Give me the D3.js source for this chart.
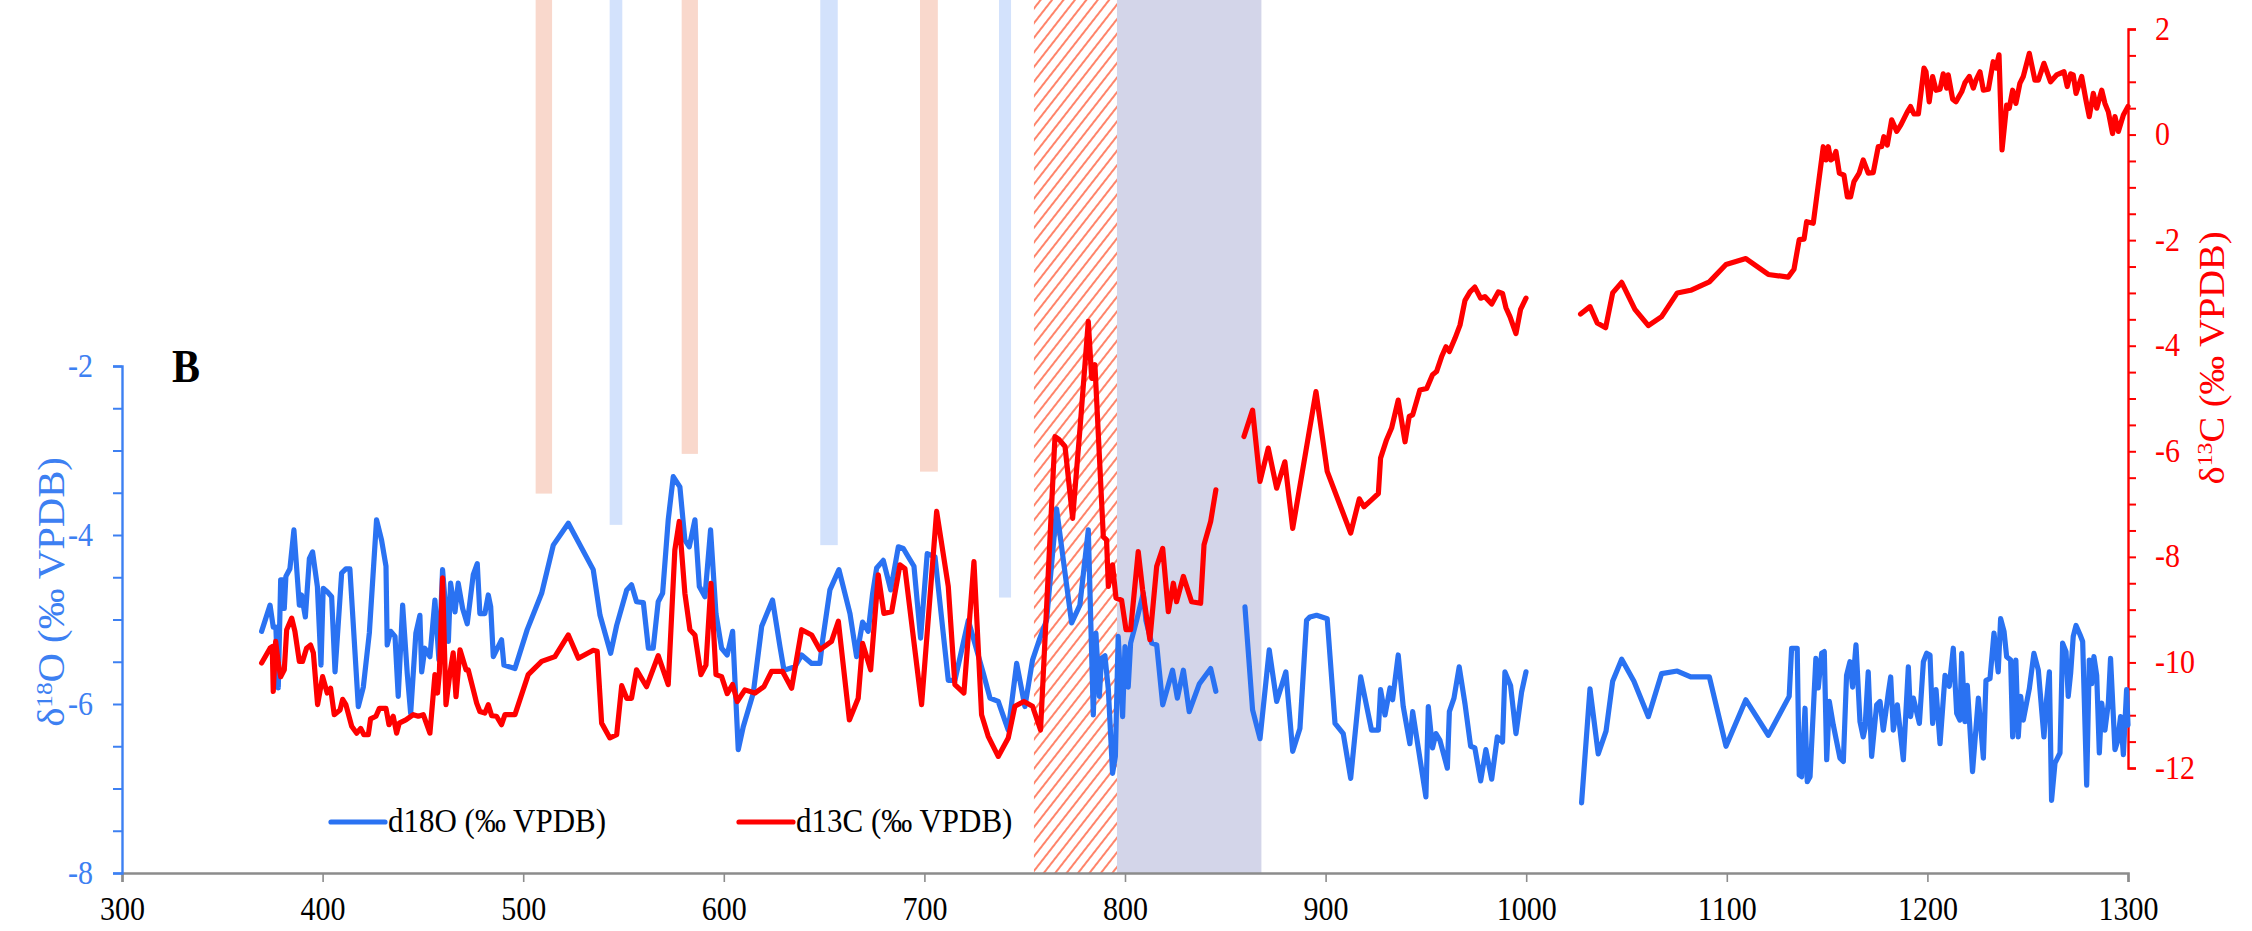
<!DOCTYPE html>
<html>
<head>
<meta charset="utf-8">
<script src="https://cdn.jsdelivr.net/npm/d3@7"></script>
<style>
  html, body { margin: 0; padding: 0; background: #fff; }
  svg { display: block; }
</style>
</head>
<body>
<svg id="chart" width="2252" height="931"></svg>
<script>
// ---- axis ticks ----
const yearTicks = [300, 400, 500, 600, 700, 800, 900, 1000, 1100, 1200, 1300];
const o18Ticks = [-2, -4, -6, -8];
const c13Ticks = [2, 0, -2, -4, -6, -8, -10, -12];

// ---- short events (year span, lower end on the δ18O scale) ----
const eventStart = [506.2, 543.1, 579.0, 648.1, 697.8, 737.2];
const eventEnd   = [514.4, 549.4, 587.1, 656.8, 706.7, 743.2];
const eventFloor = [-3.51, -3.88, -3.04, -4.12, -3.25, -4.74];
const eventKind  = ["warm", "cold", "warm", "cold", "warm", "cold"];

// ---- shaded intervals ----
const hatchSpan = [754.6, 796.0];
const shadeSpan = [796.0, 868.0];

// ---- δ18O record [year, ‰ VPDB]; null marks a hiatus ----
const d18O = [
  [369.6,-5.14],[373.8,-4.83],[375.4,-5.09],[376.7,-5.09],[377.9,-5.81],[379.1,-4.53],[380.1,-4.53],
  [380.9,-4.87],[381.7,-4.49],[383.7,-4.40],[385.7,-3.94],[388.4,-4.83],[389.5,-4.71],[391.4,-4.97],
  [393.4,-4.28],[395.0,-4.20],[397.4,-4.61],[399.2,-5.54],[400.3,-4.63],[402.3,-4.67],[404.5,-4.73],
  [406.2,-5.62],[409.5,-4.45],[411.6,-4.40],[413.6,-4.40],[417.8,-6.03],[420.3,-5.80],[423.3,-5.16],
  [426.9,-3.82],[429.4,-4.06],[431.6,-4.37],[432.2,-5.30],[433.9,-5.14],[436.1,-5.20],[437.7,-5.91],
  [439.9,-4.83],[442.2,-5.64],[443.9,-6.11],[446.5,-5.16],[448.5,-4.95],[449.4,-5.62],[451.0,-5.34],
  [453.5,-5.44],[456.0,-4.77],[458.0,-5.48],[459.8,-4.41],[462.7,-5.26],[463.8,-4.57],[466.0,-4.91],
  [467.6,-4.57],[469.8,-4.87],[472.1,-5.05],[475.1,-4.47],[477.1,-4.34],[478.4,-4.93],[480.9,-4.93],
  [482.6,-4.71],[483.8,-4.85],[485.1,-5.44],[489.2,-5.24],[490.4,-5.54],[495.9,-5.58],[502.0,-5.12],
  [509.2,-4.69],[515.0,-4.12],[522.5,-3.86],[534.9,-4.41],[538.3,-4.95],[543.6,-5.40],[546.6,-5.07],
  [551.6,-4.65],[554.0,-4.59],[556.5,-4.79],[559.9,-4.80],[562.4,-5.34],[564.8,-5.34],[567.3,-4.79],
  [569.5,-4.69],[572.3,-3.82],[574.8,-3.31],[578.1,-3.43],[580.6,-4.06],[582.8,-4.14],[585.6,-3.82],
  [587.8,-4.61],[590.6,-4.73],[593.4,-3.94],[596.1,-4.93],[598.9,-5.34],[601.7,-5.42],[604.4,-5.14],
  [607.2,-6.54],[609.7,-6.27],[614.7,-5.87],[618.9,-5.08],[624.3,-4.77],[628.0,-5.32],[630.0,-5.60],
  [635.5,-5.56],[638.8,-5.42],[643.8,-5.52],[647.9,-5.52],[649.3,-5.24],[652.9,-4.65],[657.4,-4.41],
  [662.9,-4.93],[666.2,-5.44],[669.2,-5.03],[672.0,-5.14],[674.2,-4.69],[676.2,-4.39],[679.5,-4.30],
  [683.2,-4.65],[687.0,-4.14],[689.5,-4.16],[692.0,-4.26],[694.8,-4.37],[698.1,-5.22],[701.4,-4.22],
  [705.3,-4.26],[711.9,-5.72],[715.2,-5.72],[721.9,-5.01],[729.4,-5.64],[732.7,-5.93],[736.8,-5.97],
  [741.8,-6.31],[746.0,-5.52],[750.1,-6.03],[753.9,-5.48],[757.3,-5.24],[760.9,-5.01],[765.9,-3.69],
  [770.1,-4.45],[773.4,-5.04],[777.5,-4.83],[781.7,-3.94],[784.2,-6.13],[785.5,-5.16],[787.2,-5.91],
  [788.3,-5.46],[790.0,-5.43],[791.7,-5.83],[793.8,-6.82],[795.2,-6.62],[796.6,-5.20],[798.8,-6.15],
  [800.0,-5.32],[801.6,-5.80],[802.8,-5.28],[805.8,-5.01],[809.1,-4.69],[810.4,-5.01],[813.3,-5.28],
  [815.8,-5.30],[818.8,-6.01],[823.7,-5.60],[826.1,-5.93],[829.1,-5.60],[832.0,-6.09],[837.1,-5.76],
  [842.7,-5.58],[845.3,-5.85],
  null,
  [859.8,-4.85],[863.6,-6.07],[867.3,-6.41],[871.9,-5.36],[875.6,-5.97],[880.2,-5.62],[883.6,-6.56],
  [887.2,-6.29],[890.5,-5.01],[892.2,-4.97],[895.5,-4.95],[900.8,-4.99],[904.7,-6.23],[908.8,-6.35],
  [912.5,-6.88],[917.5,-5.68],[922.9,-6.31],[926.3,-6.31],[927.4,-5.83],[929.6,-6.13],[932.1,-5.81],
  [933.4,-5.95],[936.2,-5.42],[938.7,-6.03],[942.0,-6.47],[943.4,-6.09],[946.2,-6.52],[950.0,-7.10],
  [951.2,-6.03],[953.3,-6.52],[955.0,-6.35],[957.0,-6.43],[960.7,-6.76],[961.7,-6.09],[964.0,-5.93],
  [966.6,-5.56],[969.5,-6.00],[972.3,-6.50],[974.4,-6.52],[977.3,-6.91],[979.9,-6.54],[982.8,-6.89],
  [985.6,-6.39],[988.2,-6.45],[989.4,-5.62],[992.2,-5.78],[994.9,-6.35],[997.7,-5.86],[999.9,-5.62],
  null,
  [1027.6,-7.17],[1031.8,-5.82],[1035.9,-6.59],[1039.8,-6.32],[1043.1,-5.73],[1047.6,-5.47],[1053.7,-5.73],
  [1060.9,-6.15],[1067.5,-5.64],[1075.3,-5.61],[1082.0,-5.68],[1091.3,-5.68],[1099.6,-6.50],[1109.5,-5.95],
  [1120.7,-6.37],[1131.1,-5.91],[1132.3,-5.34],[1134.0,-5.34],[1135.1,-5.34],[1136.1,-6.84],[1137.3,-6.86],
  [1139.0,-6.05],[1140.1,-6.92],[1141.5,-6.86],[1144.4,-5.46],[1145.6,-5.81],[1147.3,-5.40],[1148.6,-5.38],
  [1149.8,-6.66],[1151.1,-5.97],[1153.1,-6.25],[1156.4,-6.64],[1158.1,-6.68],[1159.7,-5.66],[1161.4,-5.50],
  [1162.7,-5.80],[1164.4,-5.30],[1166.4,-6.21],[1168.0,-6.39],[1168.9,-6.29],[1170.5,-5.62],[1172.2,-6.62],
  [1174.7,-6.01],[1176.4,-5.97],[1178.0,-6.31],[1179.3,-6.09],[1180.5,-5.87],[1181.7,-5.68],[1183.0,-6.31],
  [1185.0,-6.01],[1188.0,-6.66],[1190.5,-5.56],[1191.6,-6.15],[1193.0,-5.93],[1196.0,-6.23],[1198.0,-5.50],
  [1199.6,-5.40],[1201.3,-5.42],[1202.6,-6.23],[1204.3,-5.83],[1206.3,-6.47],[1208.8,-5.66],[1210.9,-5.79],
  [1212.9,-5.34],[1214.6,-6.11],[1216.2,-6.19],[1217.1,-5.40],[1218.7,-6.21],[1219.9,-5.78],[1222.5,-6.80],
  [1225.4,-5.93],[1227.9,-6.64],[1229.2,-5.72],[1231.2,-5.70],[1233.2,-5.16],[1235.3,-5.62],[1236.5,-4.99],
  [1238.2,-5.14],[1239.5,-5.44],[1241.5,-5.48],[1242.5,-6.39],[1244.1,-5.48],[1245.3,-6.39],[1246.5,-5.91],
  [1247.8,-6.19],[1250.8,-5.82],[1253.1,-5.40],[1255.3,-5.60],[1258.1,-6.39],[1259.4,-5.95],[1260.8,-5.62],
  [1261.9,-7.14],[1263.6,-6.70],[1266.1,-6.58],[1267.4,-5.28],[1269.1,-5.38],[1270.2,-5.91],[1271.4,-5.64],
  [1272.7,-5.20],[1274.1,-5.07],[1276.1,-5.18],[1277.4,-5.26],[1279.4,-6.96],[1280.7,-5.48],[1281.9,-5.76],
  [1283.0,-5.44],[1284.4,-5.66],[1285.7,-6.58],[1286.9,-5.99],[1288.5,-6.31],[1290.2,-5.99],[1291.3,-5.46],
  [1293.5,-6.54],[1294.7,-6.45],[1296.3,-6.15],[1297.7,-6.60],[1299.3,-5.83],[1300.0,-6.25]
];

// ---- δ13C record [year, ‰ VPDB]; null marks a hiatus ----
const d13C = [
  [369.6,-10.01],[373.8,-9.73],[374.9,-9.70],[375.4,-10.55],[376.6,-9.60],[377.9,-10.01],[379.1,-10.27],
  [380.9,-10.14],[382.1,-9.38],[384.6,-9.16],[386.2,-9.41],[388.4,-9.98],[390.0,-9.98],[392.0,-9.73],
  [394.0,-9.67],[395.4,-9.82],[397.5,-10.80],[400.0,-10.27],[402.3,-10.58],[404.0,-10.49],[405.8,-10.99],
  [408.7,-10.90],[410.0,-10.70],[411.6,-10.80],[414.5,-11.21],[417.0,-11.34],[419.0,-11.25],[420.6,-11.37],
  [422.8,-11.37],[423.9,-11.07],[426.6,-11.02],[428.3,-10.87],[431.6,-10.87],[433.1,-11.18],[435.2,-11.02],
  [436.9,-11.34],[438.2,-11.15],[441.5,-11.09],[445.2,-10.99],[447.7,-11.02],[450.2,-10.99],[453.5,-11.34],
  [456.0,-10.23],[457.3,-10.58],[458.2,-10.20],[459.8,-8.40],[461.5,-10.80],[463.5,-10.20],[465.1,-9.82],
  [466.5,-10.65],[468.5,-9.76],[471.5,-10.14],[472.6,-10.14],[476.8,-10.77],[478.4,-10.93],[480.9,-10.96],
  [482.6,-10.80],[484.3,-11.01],[486.7,-11.02],[489.2,-11.18],[490.9,-10.99],[495.9,-10.99],[502.5,-10.23],
  [509.2,-9.98],[515.8,-9.89],[522.5,-9.48],[527.5,-9.92],[534.9,-9.77],[536.9,-9.79],[539.1,-11.15],
  [543.2,-11.43],[546.6,-11.37],[549.1,-10.44],[551.6,-10.68],[554.0,-10.68],[556.5,-10.14],[561.5,-10.46],
  [567.3,-9.87],[572.3,-10.42],[575.6,-7.87],[577.8,-7.33],[580.6,-8.69],[583.1,-9.38],[585.6,-9.48],
  [588.6,-10.23],[591.1,-10.05],[593.6,-8.50],[596.1,-10.23],[598.9,-10.27],[601.7,-10.59],[604.4,-10.42],
  [606.7,-10.74],[610.5,-10.52],[615.5,-10.58],[620.0,-10.46],[623.8,-10.17],[629.3,-10.17],[633.8,-10.49],
  [638.8,-9.38],[643.8,-9.48],[647.9,-9.76],[653.7,-9.60],[657.1,-9.22],[662.6,-11.09],[667.0,-10.68],
  [669.2,-9.64],[673.2,-10.14],[677.0,-8.34],[679.8,-9.07],[683.7,-9.04],[687.8,-8.15],[690.3,-8.22],
  [698.6,-10.80],[706.1,-7.14],[711.9,-8.56],[715.2,-10.42],[719.7,-10.58],[724.7,-8.09],[728.5,-10.99],
  [731.8,-11.40],[736.8,-11.78],[741.8,-11.43],[745.1,-10.83],[749.6,-10.74],[753.9,-10.83],[757.9,-11.28],
  [765.1,-5.72],[767.2,-5.78],[770.1,-5.91],[773.9,-7.27],[777.5,-5.60],[781.7,-3.54],[783.4,-4.62],
  [785.0,-4.36],[789.2,-7.62],[790.8,-7.68],[791.7,-8.56],[793.8,-8.15],[795.5,-8.78],[798.3,-8.82],
  [800.5,-9.38],[802.8,-9.38],[806.6,-7.90],[808.8,-8.63],[812.4,-9.57],[815.8,-8.18],[818.8,-7.84],
  [821.6,-9.04],[824.1,-8.50],[825.7,-8.85],[829.1,-8.37],[833.2,-8.85],[837.7,-8.88],[839.4,-7.77],
  [842.7,-7.33],[845.3,-6.73],
  null,
  [859.3,-5.72],[863.6,-5.22],[867.3,-6.57],[871.4,-5.94],[875.6,-6.70],[879.7,-6.20],[883.6,-7.46],
  [889.7,-6.10],[895.2,-4.87],[900.8,-6.38],[912.5,-7.55],[916.8,-6.90],[919.1,-7.05],[922.9,-6.92],
  [926.3,-6.80],[927.4,-6.13],[930.4,-5.78],[932.9,-5.56],[936.2,-5.03],[939.6,-5.82],[941.7,-5.34],
  [943.4,-5.31],[947.0,-4.84],[950.4,-4.81],[953.3,-4.55],[955.3,-4.49],[957.8,-4.21],[960.0,-4.02],
  [961.7,-4.11],[964.5,-3.86],[967.0,-3.61],[969.5,-3.14],[972.0,-2.98],[974.4,-2.89],[977.3,-3.10],
  [979.4,-3.07],[982.8,-3.21],[986.1,-2.98],[988.2,-3.01],[989.9,-3.28],[991.9,-3.45],[994.9,-3.77],
  [997.2,-3.31],[999.9,-3.10],
  null,
  [1027.1,-3.40],[1031.8,-3.26],[1035.4,-3.57],[1039.6,-3.66],[1043.1,-3.00],[1047.6,-2.80],[1054.2,-3.31],
  [1060.9,-3.62],[1067.5,-3.45],[1075.3,-3.00],[1082.0,-2.95],[1091.3,-2.79],[1099.6,-2.46],[1109.5,-2.35],
  [1120.7,-2.65],[1130.6,-2.70],[1133.5,-2.55],[1136.1,-1.99],[1138.5,-1.98],[1139.8,-1.65],[1143.1,-1.68],
  [1148.1,-0.23],[1149.4,-0.48],[1150.6,-0.23],[1151.8,-0.48],[1153.1,-0.45],[1154.4,-0.32],[1156.1,-0.73],
  [1158.4,-0.77],[1160.1,-1.18],[1161.7,-1.18],[1163.4,-0.89],[1166.0,-0.73],[1168.0,-0.48],[1170.5,-0.73],
  [1173.0,-0.72],[1175.5,-0.23],[1177.2,-0.23],[1178.3,-0.04],[1180.0,-0.20],[1182.2,0.28],[1184.7,0.06],
  [1186.7,0.18],[1190.0,0.43],[1191.6,0.53],[1193.3,0.39],[1195.5,0.39],[1198.3,1.26],[1199.3,1.19],
  [1200.9,0.62],[1202.6,1.10],[1204.3,0.84],[1206.3,0.86],[1207.9,1.15],[1209.6,0.88],[1210.4,1.13],
  [1212.6,0.67],[1214.2,0.62],[1217.1,0.81],[1218.7,0.98],[1220.9,1.10],[1222.9,0.88],[1224.2,1.03],
  [1226.2,1.19],[1227.9,0.84],[1230.4,0.86],[1232.8,1.38],[1234.2,1.26],[1235.7,1.51],[1237.2,-0.29],
  [1239.5,0.56],[1240.8,0.50],[1242.5,0.84],[1244.1,0.59],[1246.1,0.97],[1247.8,1.10],[1250.8,1.54],
  [1253.6,1.03],[1255.3,1.03],[1258.1,1.35],[1261.4,1.00],[1264.4,1.13],[1268.1,1.19],[1269.7,0.91],
  [1271.4,1.15],[1272.7,1.13],[1274.1,0.78],[1276.9,1.10],[1279.0,0.66],[1280.7,0.34],[1282.7,0.78],
  [1284.4,0.50],[1286.9,0.84],[1288.5,0.59],[1290.2,0.43],[1292.3,0.02],[1293.5,0.34],[1295.2,0.06],
  [1297.7,0.37],[1300.0,0.53]
];

// ---- styling ----
const SERIF = "'Liberation Serif', 'Times New Roman', Times, serif";
const BLUE = "#2a72f2";
const BLUE_AXIS = "#3d80f2";
const RED = "#ff0000";
const STRETCH = 1.1;   // glyphs are drawn slightly taller than wide
const LINE_W = 5.2;

const svg = d3.select("#chart");

const x  = d3.scaleLinear().domain([300, 1300]).range([122, 2128]);
const yL = d3.scaleLinear().domain([-8, -2]).range([873, 366]);
const yR = d3.scaleLinear().domain([-12, 2]).range([768, 29]);
const plotTop = 0;
const plotBottom = yL(-8);

// hatch pattern for the first interval
const defs = svg.append("defs");
const pat = defs.append("pattern")
  .attr("id", "hatch")
  .attr("patternUnits", "userSpaceOnUse")
  .attr("width", 9).attr("height", 9)
  .attr("patternTransform", "rotate(38)");
pat.append("line")
  .attr("x1", 1).attr("y1", -1).attr("x2", 1).attr("y2", 10)
  .attr("stroke", "#ff5a38").attr("stroke-width", 1.5);

// shaded intervals
svg.append("rect")
  .attr("x", x(shadeSpan[0])).attr("y", plotTop)
  .attr("width", x(shadeSpan[1]) - x(shadeSpan[0]))
  .attr("height", plotBottom - plotTop)
  .attr("fill", "#d3d5e9");
svg.append("rect")
  .attr("x", x(hatchSpan[0])).attr("y", plotTop)
  .attr("width", x(hatchSpan[1]) - x(hatchSpan[0]))
  .attr("height", plotBottom - plotTop)
  .attr("fill", "url(#hatch)");

// event bars
const events = eventStart.map((s, i) => ({ s, e: eventEnd[i], f: eventFloor[i], k: eventKind[i] }));
svg.append("g").selectAll("rect").data(events).join("rect")
  .attr("x", d => x(d.s))
  .attr("y", plotTop)
  .attr("width", d => x(d.e) - x(d.s))
  .attr("height", d => yL(d.f) - plotTop)
  .attr("fill", d => d.k === "warm" ? "#f9d8cc" : "#d3e2fc");

// ---- x axis ----
const xAxisG = svg.append("g").attr("transform", `translate(0,${plotBottom})`);
xAxisG.call(d3.axisBottom(x).tickValues(d3.range(300, 1301, 20)).tickSize(6).tickFormat(""));
xAxisG.call(d3.axisBottom(x).tickValues(yearTicks).tickSize(9).tickFormat(d => String(d)));
xAxisG.selectAll("path.domain").attr("stroke", "#8c8c8c").attr("stroke-width", 2.6);
xAxisG.selectAll(".tick line").attr("stroke", "#8c8c8c").attr("stroke-width", 1.6);
xAxisG.selectAll(".tick text")
  .attr("y", 0).attr("dy", null)
  .attr("transform", `translate(0,47) scale(1,${STRETCH})`)
  .attr("font-family", SERIF).attr("font-size", 30).attr("fill", "#000");

// ---- left axis (δ18O) ----
const leftG = svg.append("g").attr("transform", `translate(${x(300)},0)`);
leftG.call(d3.axisLeft(yL)
  .tickValues(d3.range(-16, -3.99, 1).map(v => v / 2))
  .tickSize(9).tickPadding(20)
  .tickFormat(d => o18Ticks.includes(d) ? String(d) : ""));
leftG.selectAll("path.domain").attr("stroke", BLUE_AXIS).attr("stroke-width", 2.4);
leftG.selectAll(".tick line").attr("stroke", BLUE_AXIS).attr("stroke-width", 2);
leftG.selectAll(".tick text")
  .attr("dy", null).attr("y", 0)
  .attr("transform", `translate(0,10) scale(1,${STRETCH})`)
  .attr("font-family", SERIF).attr("font-size", 30).attr("fill", BLUE_AXIS);

// ---- right axis (δ13C) ----
const rightG = svg.append("g").attr("transform", `translate(${x(1300)},0)`);
rightG.call(d3.axisRight(yR)
  .tickValues(d3.range(-24, 4.01, 1).map(v => v / 2))
  .tickSize(8).tickPadding(19)
  .tickFormat(d => c13Ticks.includes(d) ? String(d) : ""));
rightG.selectAll("path.domain").attr("stroke", RED).attr("stroke-width", 2.4);
rightG.selectAll(".tick line").attr("stroke", RED).attr("stroke-width", 2);
rightG.selectAll(".tick text")
  .attr("dy", null).attr("y", 0)
  .attr("transform", `translate(0,10) scale(1,${STRETCH})`)
  .attr("font-family", SERIF).attr("font-size", 30).attr("fill", RED);

// ---- series ----
const lineL = d3.line().defined(d => d !== null).x(d => x(d[0])).y(d => yL(d[1]));
const lineR = d3.line().defined(d => d !== null).x(d => x(d[0])).y(d => yR(d[1]));

svg.append("path").datum(d18O)
  .attr("d", lineL).attr("fill", "none")
  .attr("stroke", BLUE).attr("stroke-width", LINE_W)
  .attr("stroke-linejoin", "round").attr("stroke-linecap", "round");
svg.append("path").datum(d13C)
  .attr("d", lineR).attr("fill", "none")
  .attr("stroke", RED).attr("stroke-width", LINE_W)
  .attr("stroke-linejoin", "round").attr("stroke-linecap", "round");

// ---- axis titles ----
function isotopeTitle(cx, cy, size, mass, element, color) {
  const t = svg.append("text")
    .attr("transform", `translate(${cx},${cy}) rotate(-90) scale(${STRETCH},1)`)
    .attr("text-anchor", "middle")
    .attr("font-family", SERIF).attr("font-size", size).attr("fill", color);
  t.append("tspan").text("δ");
  t.append("tspan").attr("font-size", size * 0.62).attr("dy", -size * 0.33).text(mass);
  t.append("tspan").attr("dy", size * 0.33).text(element + " (‰ VPDB)");
}
isotopeTitle(64, 592, 37, "18", "O", BLUE_AXIS);
isotopeTitle(2224, 358, 35, "13", "C", RED);

// panel letter
svg.append("text")
  .attr("transform", `translate(172,382) scale(1,${STRETCH})`)
  .attr("font-family", SERIF).attr("font-weight", "bold")
  .attr("font-size", 42).attr("fill", "#000").text("B");

// ---- legend ----
const legendItems = [
  { label: "d18O (‰ VPDB)", color: BLUE, x0: 331 },
  { label: "d13C (‰ VPDB)", color: RED, x0: 739 }
];
const legendY = 822;
const lg = svg.append("g").selectAll("g").data(legendItems).join("g");
lg.append("line")
  .attr("x1", d => d.x0).attr("x2", d => d.x0 + 54)
  .attr("y1", legendY).attr("y2", legendY)
  .attr("stroke", d => d.color).attr("stroke-width", LINE_W)
  .attr("stroke-linecap", "round");
lg.append("text")
  .attr("transform", d => `translate(${d.x0 + 57},${legendY + 10}) scale(1,${STRETCH})`)
  .attr("font-family", SERIF).attr("font-size", 31).attr("fill", "#000")
  .text(d => d.label);
</script>
</body>
</html>
